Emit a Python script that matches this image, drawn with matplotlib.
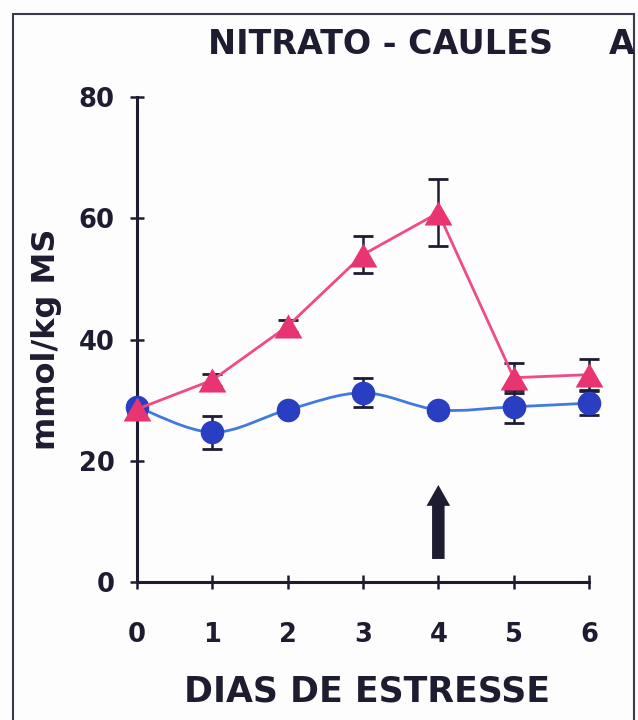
import numpy as np
import matplotlib
matplotlib.use("Agg")
import matplotlib.pyplot as plt
from matplotlib.path import Path
from matplotlib.patches import PathPatch, Rectangle

plt.rcParams['font.family'] = ['DejaVu Sans']
plt.rcParams['font.weight'] = 'bold'

# Nitrate content in stems (mmol/kg DM) over days of stress
dias = [0, 1, 2, 3, 4, 5, 6]
estresse = [28.5, 33.3, 42.2, 54.0, 60.9, 33.7, 34.2]
estresse_err = [0.8, 1.0, 1.0, 3.0, 5.5, 2.5, 2.6]
controle = [28.9, 24.7, 28.4, 31.2, 28.4, 28.9, 29.5]
controle_err = [0.8, 2.7, 0.8, 2.4, 0.8, 2.7, 2.0]

ink = '#1d1c30'
pink_line = '#f04a88'
pink_mark = '#e83470'
blue_line = '#4079e0'
blue_mark = '#2a3ec2'

fig = plt.figure(figsize=(6.38, 7.2), dpi=100)
fig.patch.set_facecolor('#fdfdfd')

# outer frame around the panel
fig.patches.append(Rectangle((13 / 638, -0.05), (634 - 13) / 638, 1.05 - 14 / 720,
                             transform=fig.transFigure, fill=False,
                             edgecolor='#3a3a4a', linewidth=1.5))

ax = fig.add_axes([137 / 638, 1 - 582 / 720, (589 - 137) / 638, (582 - 97) / 720])
ax.set_facecolor('none')
ax.set_xlim(0, 6)
ax.set_ylim(0, 80)

for side in ('top', 'right'):
    ax.spines[side].set_visible(False)
for side in ('left', 'bottom'):
    ax.spines[side].set_linewidth(2.2)
    ax.spines[side].set_color(ink)

ax.set_xticks(dias)
ax.set_yticks([0, 20, 40, 60, 80])
ax.tick_params(axis='both', direction='inout', length=10, width=1.8, color=ink,
               labelsize=18.5, labelcolor=ink)
ax.tick_params(axis='x', pad=24)
ax.tick_params(axis='y', pad=11)


def smooth_path(xs, ys, tension=1 / 6):
    """Catmull-Rom curve through the points, as cubic Bezier segments."""
    pts = np.column_stack([xs, ys]).astype(float)
    verts = [pts[0]]
    codes = [Path.MOVETO]
    n = len(pts)
    for i in range(n - 1):
        p0 = pts[i - 1] if i > 0 else pts[i]
        p1 = pts[i]
        p2 = pts[i + 1]
        p3 = pts[i + 2] if i + 2 < n else pts[i + 1]
        c1 = p1 + (p2 - p0) * tension
        c2 = p2 - (p3 - p1) * tension
        verts += [c1, c2, p2]
        codes += [Path.CURVE4] * 3
    return Path(verts, codes)


# equilateral triangle marker, centred on its bounding box
tri = Path([(-1, -0.866), (1, -0.866), (0, 0.866), (-1, -0.866)],
           [Path.MOVETO, Path.LINETO, Path.LINETO, Path.CLOSEPOLY])

# control series: smoothed line
ax.add_patch(PathPatch(smooth_path(dias, controle), fill=False,
                       edgecolor=blue_line, linewidth=2, zorder=2, clip_on=False))
ax.errorbar(dias, controle, yerr=controle_err, fmt='none', ecolor=ink,
            elinewidth=1.8, capsize=7, capthick=2, zorder=3, clip_on=False)
ax.plot(dias, controle, linestyle='none', marker='o', markersize=17,
        color=blue_mark, markeredgewidth=0, zorder=4, clip_on=False)

# stress series
ax.errorbar(dias, estresse, yerr=estresse_err, fmt='none', ecolor=ink,
            elinewidth=1.8, capsize=7, capthick=2, zorder=3, clip_on=False)
ax.plot(dias, estresse, color=pink_line, linewidth=2, zorder=5, clip_on=False)
ax.plot(dias, estresse, linestyle='none', marker=tri, markersize=20,
        color=pink_mark, markeredgewidth=0, zorder=6, clip_on=False)

# arrow marking day 4
ax.annotate('', xy=(4, 16), xytext=(4, 3.8),
            arrowprops=dict(arrowstyle='simple,head_width=17,head_length=15,tail_width=9',
                            mutation_scale=1, color=ink, shrinkA=0, shrinkB=0, lw=0))

fig.text(380 / 638, 1 - 45 / 720, 'NITRATO - CAULES', ha='center', va='center',
         fontsize=24, color=ink, fontweight='bold')
fig.text(622 / 638, 1 - 45 / 720, 'A', ha='center', va='center',
         fontsize=24, color=ink, fontweight='bold')
fig.text(367 / 638, 1 - 692 / 720, 'DIAS DE ESTRESSE', ha='center', va='center',
         fontsize=25, color=ink, fontweight='bold')
fig.text(47 / 638, 1 - 339 / 720, 'mmol/kg MS', ha='center', va='center',
         rotation=90, fontsize=23, color=ink, fontweight='bold')

fig.savefig('out.png', dpi=100, facecolor=fig.get_facecolor())
